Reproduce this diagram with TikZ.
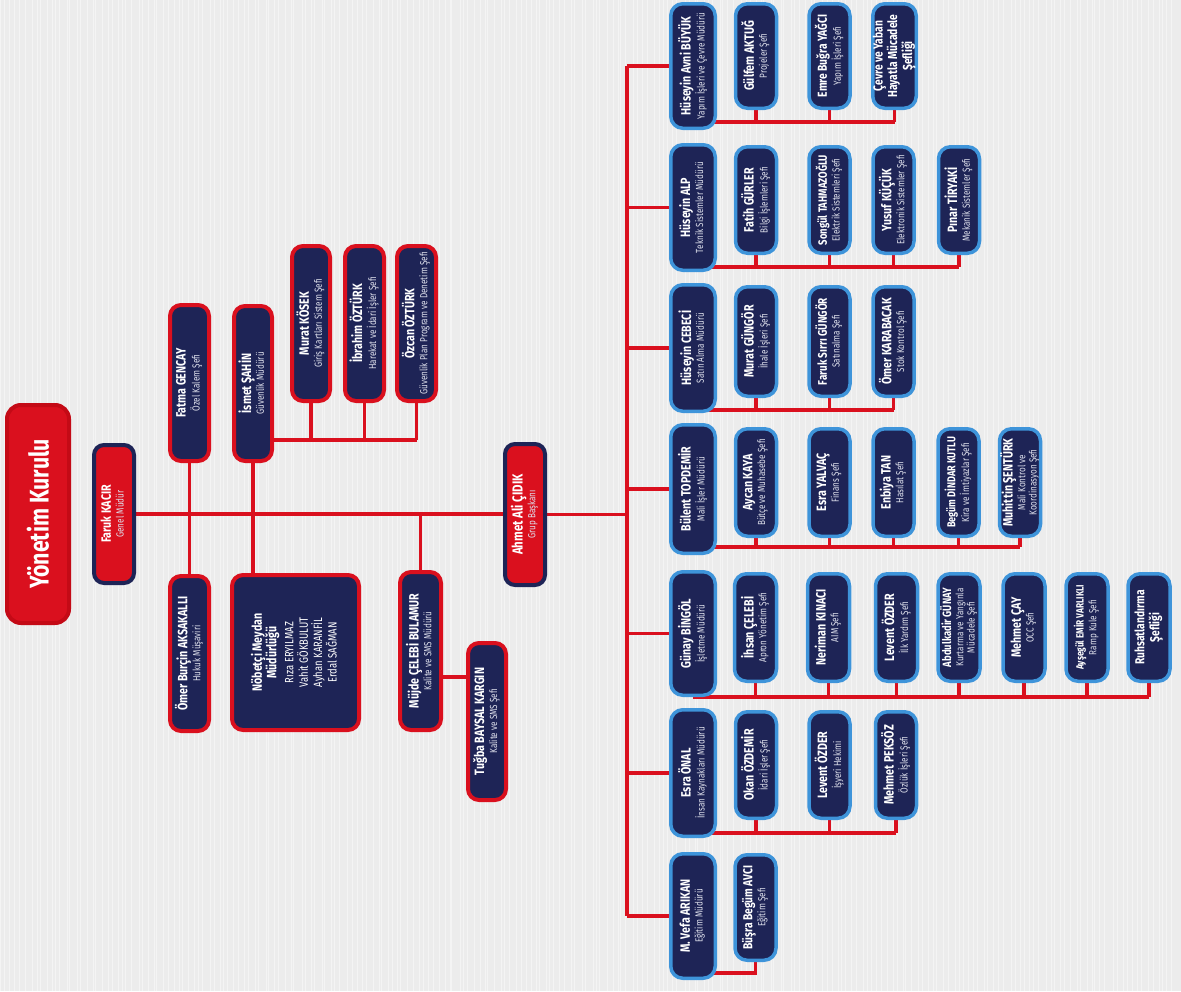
\documentclass[tikz,border=0pt]{standalone}
\usepackage{fontspec}
\setmainfont{Fira Sans}[FakeStretch=0.79]
\usepackage{graphicx}
\usetikzlibrary{positioning}

\definecolor{navy}{RGB}{30,36,86}
\definecolor{orgred}{RGB}{218,16,30}
\definecolor{darkred}{RGB}{196,10,22}
\definecolor{skyline}{RGB}{62,148,218}
\definecolor{paper}{RGB}{236,236,236}
\definecolor{subtext}{RGB}{222,224,236}

\pgfdeclarelayer{bg}
\pgfsetlayers{bg,main}

\newcommand{\person}[3][13.5]{\rotatebox{90}{\begin{tabular}{@{}c@{}}%
  {\fontsize{#1}{#1}\selectfont\bfseries #2}\\[1pt]%
  {\fontsize{10.3}{11}\selectfont\color{subtext}\begin{tabular}{@{}c@{}}#3\end{tabular}}%
  \end{tabular}}}
\newcommand{\unitname}[1]{\rotatebox{90}{\fontsize{13}{14}\selectfont\bfseries
  \begin{tabular}{@{}c@{}}#1\end{tabular}}}

\begin{document}
\begin{tikzpicture}[x=1pt, y=-1pt,
    board/.style ={rounded corners=14, fill=orgred, draw=darkred, line width=4, text=white, inner sep=0},
    chief/.style ={rounded corners=10, fill=orgred, draw=navy, line width=4, text=white, inner sep=0},
    leftunit/.style ={rounded corners=11, fill=navy, draw=orgred, line width=4, text=white, inner sep=0},
    rightunit/.style ={rounded corners=12, fill=navy, draw=skyline, line width=3.5, text=white, inner sep=0},
    link/.style ={draw=orgred, line width=3.5}]
   \useasboundingbox (0,0) rectangle (1181,991);

   % left side
   \node[board, minimum width=62, minimum height=218] (yk) at (38,514)
     {\rotatebox{90}{\fontsize{27}{30}\selectfont\bfseries Yönetim Kurulu}};
   \node[chief, minimum width=40, minimum height=138] (kacir) at (114,514) {\person{Faruk KACIR}{Genel Müdür}};
   \node[leftunit, minimum width=39, minimum height=156] (gencay) at (189.5,383) {\person{Fatma GENCAY}{Özel Kalem Şefi}};
   \node[leftunit, minimum width=39, minimum height=155] (aksakalli) at (189.5,653.5) {\person{Ömer Burçin AKSAKALLI}{Hukuk Müşaviri}};
   \node[leftunit, minimum width=38, minimum height=155] (sahin) at (253,383.5) {\person{İsmet ŞAHİN}{Güvenlik Müdürü}};
   \node[leftunit, minimum width=38, minimum height=155] (kosek) at (311,323.5) {\person{Murat KÖSEK}{Giriş Kartları Sistem Şefi}};
   \node[leftunit, minimum width=39, minimum height=155] (ibrahim) at (364.5,323.5) {\person{İbrahim ÖZTÜRK}{Harekat ve İdari İşler Şefi}};
   \node[leftunit, minimum width=39, minimum height=155] (ozcan) at (416.5,323.5) {\person{Özcan ÖZTÜRK}{Güvenlik Plan Program ve Denetim Şefi}};
   \node[leftunit, minimum width=127, minimum height=155] (nobetci) at (295.5,652.5)
     {\rotatebox{90}{\begin{tabular}{@{}c@{}}\fontsize{13.5}{15}\selectfont\bfseries Nöbetçi Meydan\\
      \fontsize{13.5}{15}\selectfont\bfseries Müdürlüğü\\[5pt]
      \fontsize{12}{18}\selectfont Rıza ERYILMAZ\\ \fontsize{12}{18}\selectfont Vahit GÖKBULUT\\
      \fontsize{12}{18}\selectfont Ayhan KARANFİL\\ \fontsize{12}{18}\selectfont Erdal SAĞMAN\end{tabular}}};
   \node[leftunit, minimum width=41, minimum height=158] (bulamur) at (420.5,651) {\person{Müjde ÇELEBİ BULAMUR}{Kalite ve SMS Müdürü}};
   \node[leftunit, minimum width=38, minimum height=157] (kargin) at (487,721.5) {\person{Tuğba BAYSAL KARGIN}{Kalite ve SMS Şefi}};
   \node[chief, minimum width=40, minimum height=141] (cidik) at (525,514.5) {\person[14.5]{Ahmet Ali ÇIDIK}{Grup Başkanı}};

   % managers
   \node[rightunit, minimum width=44.5, minimum height=124.5] (buyuk) at (693,66) {\person{Hüseyin Avni BÜYÜK}{Yapım İşleri ve Çevre Müdürü}};
   \node[rightunit, minimum width=44.5, minimum height=125.5] (alp) at (693,207.5) {\person{Hüseyin ALP}{Teknik Sistemler Müdürü}};
   \node[rightunit, minimum width=44.5, minimum height=126.5] (cebeci) at (693,348) {\person{Hüseyin CEBECİ}{Satın Alma Müdürü}};
   \node[rightunit, minimum width=44.5, minimum height=128.5] (topdemir) at (693,489) {\person{Bülent TOPDEMİR}{Mali İşler Müdürü}};
   \node[rightunit, minimum width=44.5, minimum height=123.5] (bingol) at (693,633.5) {\person{Günay BİNGÖL}{İşletme Müdürü}};
   \node[rightunit, minimum width=44.5, minimum height=126.5] (onal) at (693,773) {\person{Esra ÖNAL}{İnsan Kaynakları Müdürü}};
   \node[rightunit, minimum width=44.5, minimum height=124.5] (arikan) at (693,916) {\person{M. Vefa ARIKAN}{Eğitim Müdürü}};

   % chiefs
   \node[rightunit, minimum width=41, minimum height=104.5] (aktug) at (756,56) {\person{Gülfem AKTUĞ}{Projeler Şefi}};
   \node[rightunit, minimum width=41, minimum height=104.5] (yagci) at (829.5,56) {\person[13]{Emre Buğra YAĞCI}{Yapım İşleri Şefi}};
   \node[rightunit, minimum width=41, minimum height=104.5] (cevre) at (894.5,56) {\unitname{Çevre ve Yaban\\Hayatla Mücadele\\Şefliği}};

   \node[rightunit, minimum width=41, minimum height=106.5] (gurler) at (756,200) {\person{Fatih GÜRLER}{Bilgi İşlemleri Şefi}};
   \node[rightunit, minimum width=41, minimum height=106.5] (tahmazoglu) at (829.5,200) {\person[12]{Songül TAHMAZOĞLU}{Elektrik Sistemleri Şefi}};
   \node[rightunit, minimum width=41, minimum height=106.5] (kucuk) at (893.5,200) {\person{Yusuf KÜÇÜK}{Elektronik Sistemler Şefi}};
   \node[rightunit, minimum width=41, minimum height=106.5] (tiryaki) at (959,200) {\person{Pınar TİRYAKİ}{Mekanik Sistemler Şefi}};

   \node[rightunit, minimum width=41, minimum height=109.5] (gungor) at (756,341.5) {\person{Murat GÜNGÖR}{İhale İşleri Şefi}};
   \node[rightunit, minimum width=41, minimum height=109.5] (sirri) at (829.5,341.5) {\person[12.5]{Faruk Sırrı GÜNGÖR}{Satınalma Şefi}};
   \node[rightunit, minimum width=41, minimum height=109.5] (karabacak) at (893.5,341.5) {\person{Ömer KARABACAK}{Stok Kontrol Şefi}};

   \node[rightunit, minimum width=41, minimum height=107.5] (kaya) at (756,482.5) {\person{Aycan KAYA}{Bütçe ve Muhasebe Şefi}};
   \node[rightunit, minimum width=41, minimum height=107.5] (yalvac) at (829.5,482.5) {\person{Esra YALVAÇ}{Finans Şefi}};
   \node[rightunit, minimum width=41, minimum height=107.5] (tan) at (893.5,482.5) {\person{Enbiya TAN}{Hasılat Şefi}};
   \node[rightunit, minimum width=41, minimum height=107.5] (kutlu) at (958.5,482.5) {\person[11.5]{Begüm DİNDAR KUTLU}{Kira ve İmtiyazlar Şefi}};
   \node[rightunit, minimum width=41, minimum height=107.5] (senturk) at (1020,482.5) {\person{Muhittin ŞENTÜRK}{Mali Kontrol ve\\Koordinasyon Şefi}};

   \node[rightunit, minimum width=42, minimum height=107.5] (celebi) at (755.5,627.5) {\person{İhsan ÇELEBİ}{Apron Yönetim Şefi}};
   \node[rightunit, minimum width=42, minimum height=107.5] (kinaci) at (828.5,627.5) {\person{Neriman KINACI}{AIM Şefi}};
   \node[rightunit, minimum width=42, minimum height=107.5] (ozder) at (896.5,627.5) {\person{Levent ÖZDER}{İlk Yardım Şefi}};
   \node[rightunit, minimum width=42, minimum height=107.5] (gunay) at (959,627.5) {\person[12]{Abdulkadir GÜNAY}{Kurtarma ve Yangınla\\Mücadele Şefi}};
   \node[rightunit, minimum width=42, minimum height=107.5] (cay) at (1024,627.5) {\person{Mehmet ÇAY}{OCC Şefi}};
   \node[rightunit, minimum width=42, minimum height=107.5] (varlikli) at (1087,627.5) {\person[10.5]{Ayşegül EMİR VARLIKLI}{Ramp Kule Şefi}};
   \node[rightunit, minimum width=42, minimum height=107.5] (ruhsat) at (1149,627.5) {\unitname{Ruhsatlandırma\\Şefliği}};

   \node[rightunit, minimum width=41, minimum height=106.5] (ozdemir) at (756,765) {\person{Okan ÖZDEMİR}{İdari İşler Şefi}};
   \node[rightunit, minimum width=41, minimum height=106.5] (hekim) at (829.5,765) {\person{Levent ÖZDER}{İşyeri Hekimi}};
   \node[rightunit, minimum width=41, minimum height=106.5] (peksoz) at (896,765) {\person{Mehmet PEKSÖZ}{Özlük İşleri Şefi}};

   \node[rightunit, minimum width=41, minimum height=105.5] (avci) at (755.5,907.5) {\person[13]{Büşra Begüm AVCI}{Eğitim Şefi}};

   % connectors
   \coordinate (secbus) at (0,440);
   \coordinate (qbus) at (0,677);
   \coordinate (trunk) at (627,514.5);
   \coordinate (bus1) at (0,122);
   \coordinate (bus2) at (0,267);
   \coordinate (bus3) at (0,410);
   \coordinate (bus4) at (0,547);
   \coordinate (bus5) at (0,697);
   \coordinate (bus6) at (0,833);
   \coordinate (bus7) at (0,973);
   \begin{pgfonlayer}{bg}
   \fill[paper] (0,0) rectangle (1181,991);
   \pgfmathsetseed{11}
   \foreach \i in {0,...,230} \draw[white, opacity=0.45, line width=1] (\i*5.1+rand*2,0) -- ++(0,991);
   \draw[link] (kacir.east) -- (kacir.east -| cidik.west);
   \draw[link] (gencay.south) -- (aksakalli.north);
   \draw[link] (sahin.south) -- (sahin.south |- nobetci.north);
   \draw[link] (sahin |- secbus) -- (ozcan |- secbus);
   \foreach \n in {kosek,ibrahim,ozcan} \draw[link] (\n.south) -- (\n.south |- secbus);
   \draw[link] (bulamur.north) -- (bulamur.north |- kacir.east);
   \draw[link] (bulamur |- qbus) -- (kargin.west |- qbus);
   \draw[link] (cidik.east) -- (trunk);
   \draw[link] (buyuk.west -| trunk) -- (arikan.west -| trunk);
   \foreach \m in {buyuk,alp,cebeci,topdemir,bingol,onal,arikan} \draw[link] (\m.west -| trunk) -- (\m.west);
   \draw[link] (buyuk |- bus1) -- (cevre |- bus1);
   \foreach \n in {aktug,yagci,cevre} \draw[link] (\n.south) -- (\n.south |- bus1);
   \draw[link] (alp |- bus2) -- (tiryaki |- bus2);
   \foreach \n in {gurler,tahmazoglu,kucuk,tiryaki} \draw[link] (\n.south) -- (\n.south |- bus2);
   \draw[link] (cebeci |- bus3) -- (karabacak |- bus3);
   \foreach \n in {gungor,sirri,karabacak} \draw[link] (\n.south) -- (\n.south |- bus3);
   \draw[link] (topdemir |- bus4) -- (senturk |- bus4);
   \foreach \n in {kaya,yalvac,tan,kutlu,senturk} \draw[link] (\n.south) -- (\n.south |- bus4);
   \draw[link] (bingol |- bus5) -- (ruhsat |- bus5);
   \foreach \n in {celebi,kinaci,ozder,gunay,cay,varlikli,ruhsat} \draw[link] (\n.south) -- (\n.south |- bus5);
   \draw[link] (onal |- bus6) -- (peksoz |- bus6);
   \foreach \n in {ozdemir,hekim,peksoz} \draw[link] (\n.south) -- (\n.south |- bus6);
   \draw[link] (arikan |- bus7) -| (avci.south);
   \end{pgfonlayer}
 \end{tikzpicture}
\end{document}
